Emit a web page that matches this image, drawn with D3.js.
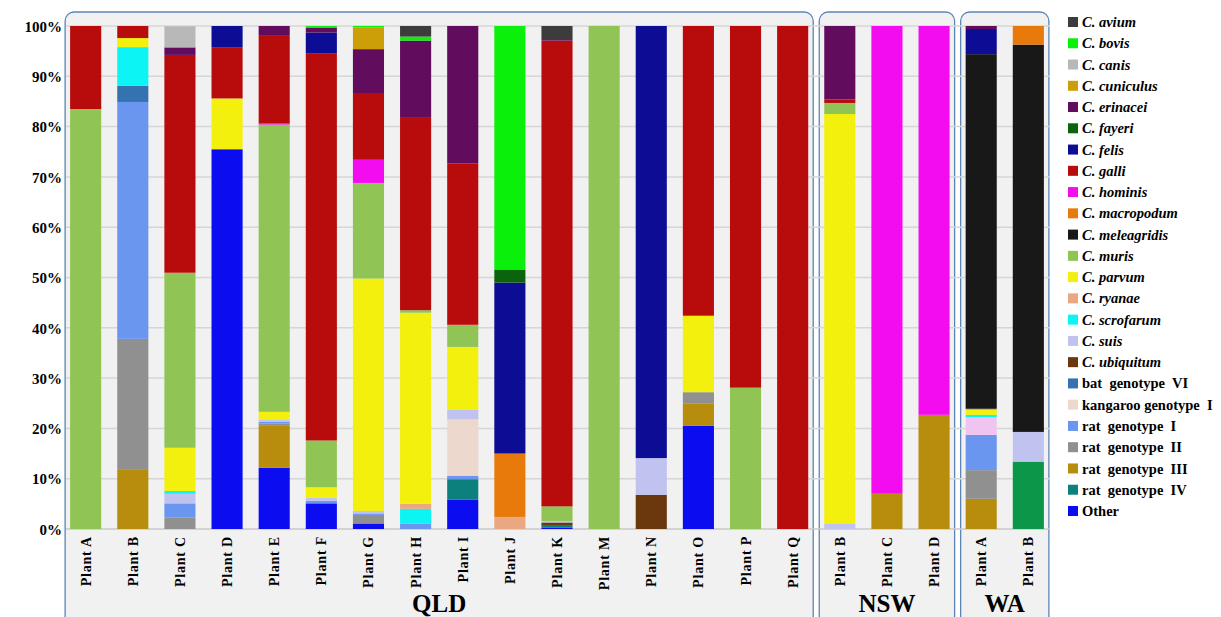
<!DOCTYPE html>
<html><head><meta charset="utf-8">
<script src="https://cdn.jsdelivr.net/npm/d3@7"></script>
<style>
body{margin:0;background:#fff;}
svg{display:block;}
text{font-family:"Liberation Serif","Times New Roman",serif;font-weight:bold;}
</style></head>
<body>
<svg id="chart" width="1221" height="617"></svg>
<script>
// ---- DATA ----
const plants = ["Plant A","Plant B","Plant C","Plant D","Plant E","Plant F","Plant G","Plant H","Plant I","Plant J","Plant K","Plant M","Plant N","Plant O","Plant P","Plant Q","Plant B","Plant C","Plant D","Plant A","Plant B"];
const regions = ["QLD","QLD","QLD","QLD","QLD","QLD","QLD","QLD","QLD","QLD","QLD","QLD","QLD","QLD","QLD","QLD","NSW","NSW","NSW","WA","WA"];
const regionNames = ["QLD","NSW","WA"];
const yTicks = [0,10,20,30,40,50,60,70,80,90,100];

//                         A    B    C    D    E    F    G    H    I    J    K    M    N    O    P    Q   NB   NC   ND   WA   WB
const unlistedGreen   = [  0,   0,   0,   0,   0,   0,   0,   0,   0,   0,   0,   0,   0,   0,   0,   0,   0,   0,   0,   0,13.4];
const other           = [  0,   0,   0,75.5,12.2, 5.1, 1.1,   0, 5.8,   0, 0.3,   0,   0,20.5,   0,   0,   0,   0,   0,   0,   0];
const ratIV           = [  0,   0,   0,   0,   0,   0,   0,   0, 4.1,   0, 0.5,   0,   0,   0,   0,   0,   0,   0,   0,   0,   0];
const ratIII          = [  0,11.9,   0,   0, 8.3,   0,   0,   0,   0,   0,   0,   0,   0, 4.5,   0,   0,   0, 7.0,22.7, 6.0,   0];
const ratII           = [  0,25.9,2.25,   0, 0.5,   0, 1.7,   0,   0,   0,   0,   0,   0, 2.2,   0,   0,   0,   0,   0, 5.7,   0];
const ratI            = [  0,47.1,2.85,   0, 0.3, 0.5, 0.3, 1.1, 0.7,   0,   0,   0,   0,   0,   0,   0,   0,   0,   0, 7.0,   0];
const kangarooI       = [  0,   0,   0,   0,   0,   0,   0,   0,11.2,   0,   0,   0,   0,   0,   0,   0,   0,   0,   0,   0,   0];
const unlistedPink    = [  0,   0,   0,   0,   0,   0,   0,   0,   0,   0,   0,   0,   0,   0,   0,   0,   0,   0,   0, 3.5,   0];
const batVI           = [  0, 3.2,   0,   0,   0,   0,   0,   0,   0,   0,   0,   0,   0,   0,   0,   0,   0,   0,   0,   0,   0];
const ubiquitum       = [  0,   0,   0,   0,   0,   0,   0,   0,   0,   0, 0.5,   0, 6.8,   0,   0,   0,   0,   0,   0,   0,   0];
const suis            = [  0,   0, 1.9,   0, 0.5, 0.6, 0.5,   0, 1.9,   0, 0.3,   0, 7.3,   0,   0,   0, 1.0,   0,   0,   0, 5.9];
const scrofarum       = [  0, 7.7,0.55,   0,   0,   0,   0, 2.9,   0,   0,   0,   0,   0,   0,   0,   0,   0,   0,   0, 0.5,   0];
const ryanae          = [  0,   0,   0,   0,   0,   0,   0, 1.0,   0, 2.4,   0,   0,   0,   0,   0,   0,   0,   0,   0,   0,   0];
const parvum          = [  0, 1.8, 8.6,10.1, 1.5, 2.1,46.2,38.0,12.5,   0,   0,   0,   0,15.2,   0,   0,81.5,   0,   0, 1.0,   0];
const muris           = [83.5,  0,34.8,   0,57.1, 9.3,19.0, 0.5, 4.4,   0, 2.9, 100,   0,   0,28.1,   0, 2.2,   0,   0, 0.2,   0];
const meleagridis     = [  0,   0,   0,   0,   0,   0,   0,   0,   0,   0,   0,   0,   0,   0,   0,   0,   0,   0,   0,70.5,77.0];
const macropodum      = [  0,   0,   0,   0,   0,   0,   0,   0,   0,12.6,   0,   0,   0,   0,   0,   0,   0,   0,   0,   0, 3.7];
const hominis         = [  0,   0,   0,   0, 0.2,   0, 4.6,   0,   0,   0,   0,   0,   0,   0,   0,   0,   0,93.0,77.3,   0,   0];
const galli           = [16.5, 2.4,43.3,10.2,17.6,76.9,13.1,38.4,32.1,  0,92.6,   0,   0,57.6,71.9, 100, 0.7,   0,   0,   0,   0];
const felis           = [  0,   0,   0, 4.2,   0, 4.2,   0,   0,   0,34.0,   0,   0,85.9,   0,   0,   0,   0,   0,   0, 5.0,   0];
const fayeri          = [  0,   0,   0,   0,   0,   0,   0,   0,   0, 2.6,   0,   0,   0,   0,   0,   0,   0,   0,   0,   0,   0];
const erinacei        = [  0,   0, 1.5,   0, 1.8, 0.9, 8.9,15.2,27.3,   0, 0.3,   0,   0,   0,   0,   0,14.6,   0,   0, 0.6,   0];
const cuniculus       = [  0,   0,   0,   0,   0,   0, 4.3,   0,   0,   0,   0,   0,   0,   0,   0,   0,   0,   0,   0,   0,   0];
const canis           = [  0,   0, 4.2,   0,   0,   0,   0,   0,   0,   0,   0,   0,   0,   0,   0,   0,   0,   0,   0,   0,   0];
const bovis           = [  0,   0,   0,   0,   0, 0.4, 0.3, 0.8,   0,48.4,   0,   0,   0,   0,   0,   0,   0,   0,   0,   0,   0];
const avium           = [  0,   0,   0,   0,   0,   0,   0, 2.1,   0,   0, 2.6,   0,   0,   0,   0,   0,   0,   0,   0,   0,   0];

// stacking order, bottom -> top
const series = [
  {name:"unlisted A", values:unlistedGreen, color:"#0c964a", legend:false},
  {name:"Other", values:other, color:"#0c0cf0", legend:true, italic:false},
  {name:"rat  genotype  IV", values:ratIV, color:"#0c807c", legend:true, italic:false},
  {name:"rat  genotype  III", values:ratIII, color:"#b88c0c", legend:true, italic:false},
  {name:"rat  genotype  II", values:ratII, color:"#909090", legend:true, italic:false},
  {name:"rat  genotype  I", values:ratI, color:"#6a96f0", legend:true, italic:false},
  {name:"kangaroo genotype  I", values:kangarooI, color:"#ecd8cc", legend:true, italic:false},
  {name:"unlisted B", values:unlistedPink, color:"#f0c4f0", legend:false},
  {name:"bat  genotype  VI", values:batVI, color:"#3472b0", legend:true, italic:false},
  {name:"C. ubiquitum", values:ubiquitum, color:"#6a380c", legend:true, italic:true},
  {name:"C. suis", values:suis, color:"#c0c2f0", legend:true, italic:true},
  {name:"C. scrofarum", values:scrofarum, color:"#0cf4f4", legend:true, italic:true},
  {name:"C. ryanae", values:ryanae, color:"#eaa882", legend:true, italic:true},
  {name:"C. parvum", values:parvum, color:"#f2f00c", legend:true, italic:true},
  {name:"C. muris", values:muris, color:"#90c454", legend:true, italic:true},
  {name:"C. meleagridis", values:meleagridis, color:"#181818", legend:true, italic:true},
  {name:"C. macropodum", values:macropodum, color:"#e87a0c", legend:true, italic:true},
  {name:"C. hominis", values:hominis, color:"#f40cf0", legend:true, italic:true},
  {name:"C. galli", values:galli, color:"#b80c0c", legend:true, italic:true},
  {name:"C. felis", values:felis, color:"#0c0c94", legend:true, italic:true},
  {name:"C. fayeri", values:fayeri, color:"#0b640b", legend:true, italic:true},
  {name:"C. erinacei", values:erinacei, color:"#620c5e", legend:true, italic:true},
  {name:"C. cuniculus", values:cuniculus, color:"#cc9e08", legend:true, italic:true},
  {name:"C. canis", values:canis, color:"#b8b8b8", legend:true, italic:true},
  {name:"C. bovis", values:bovis, color:"#0af00a", legend:true, italic:true},
  {name:"C. avium", values:avium, color:"#3c3c3c", legend:true, italic:true}
];

// ---- CHART ----
const svg = d3.select("#chart");
const ids = plants.map((p,i)=>i);
const x = d3.scaleBand().domain(ids).range([62.1, 1051.9]).paddingInner(0.34).paddingOuter(0.17);
const y = d3.scaleLinear().domain([0,100]).range([529, 26]);

// region boxes
regionNames.forEach(r=>{
  const idx = ids.filter(i=>regions[i]===r);
  const x0 = x(idx[0]) - 5, x1 = x(idx[idx.length-1]) + x.bandwidth() + 5;
  svg.append("rect").attr("x",x0).attr("y",12).attr("width",x1-x0).attr("height",640)
    .attr("rx",9).attr("fill","#f1f1f1").attr("stroke","#5b85b5").attr("stroke-width",1.3);
  svg.append("text").attr("x",(x0+x1)/2).attr("y",612).attr("text-anchor","middle")
    .attr("font-size",25).attr("fill","#000").text(r);
});

// gridlines
const gx0 = 66, gx1 = 1050;
svg.append("g").selectAll("line").data(yTicks).join("line")
  .attr("x1",gx0).attr("x2",gx1).attr("y1",d=>y(d)).attr("y2",d=>y(d))
  .attr("stroke",d=>d===0?"#c8c8c8":"#d6d6d6").attr("stroke-width",1.5);

// y axis labels
const yAxis = d3.axisLeft(y).tickValues(yTicks).tickFormat(d=>d+"%").tickSize(0).tickPadding(0);
const ya = svg.append("g").attr("transform","translate(62,0)").call(yAxis);
ya.select(".domain").remove();
ya.selectAll("text").attr("font-size",15).attr("font-family","Liberation Serif, Times New Roman, serif")
  .attr("font-weight","bold").attr("fill","#000").attr("dy","0.35em");

// stacked bars
const rows = ids.map(i=>{ const o={i}; series.forEach((s,k)=>o[k]=s.values[i]); return o; });
const stack = d3.stack().keys(series.map((s,k)=>k))(rows);
svg.append("g").selectAll("g").data(stack).join("g")
  .attr("fill",(d,k)=>series[k].color)
  .selectAll("rect").data(d=>d.filter(p=>p[1]-p[0]>0)).join("rect")
  .attr("x",d=>x(d.data.i)).attr("width",x.bandwidth())
  .attr("y",d=>y(d[1])).attr("height",d=>y(d[0])-y(d[1]));

// x labels
svg.append("g").selectAll("text").data(ids).join("text")
  .attr("transform",i=>`translate(${x(i)+x.bandwidth()/2+5},536) rotate(-90)`)
  .attr("text-anchor","end").attr("font-size",14).attr("letter-spacing",0.8).attr("fill","#000")
  .text(i=>plants[i]);

// legend
const leg = series.filter(s=>s.legend).slice().reverse();
const lg = svg.append("g").selectAll("g").data(leg).join("g")
  .attr("transform",(d,k)=>`translate(1068,${22 + k*21.26})`);
lg.append("rect").attr("x",0).attr("y",-5).attr("width",10).attr("height",10).attr("fill",d=>d.color);
lg.append("text").attr("x",14).attr("dy","0.35em").attr("font-size",14.5)
  .attr("font-style",d=>d.italic?"italic":"normal").attr("fill","#000")
  .style("white-space","pre").attr("xml:space","preserve").text(d=>d.name);
</script>
</body></html>
